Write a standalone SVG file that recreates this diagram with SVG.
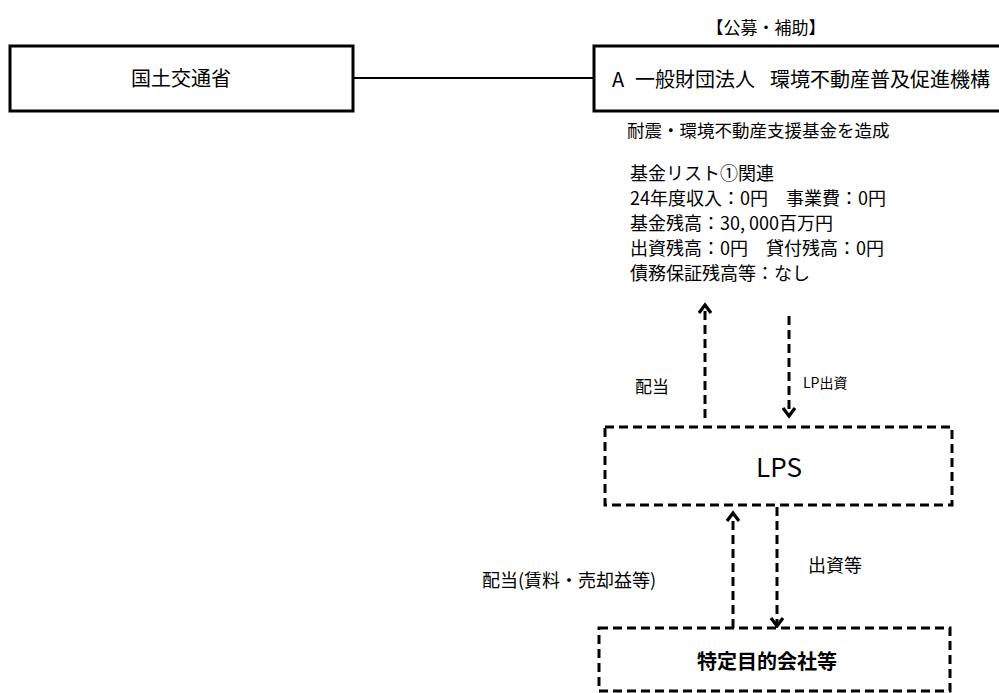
<svg xmlns="http://www.w3.org/2000/svg" width="999" height="693" viewBox="0 0 999 693">
<defs>
<style>
text{font-family:"Noto Sans CJK JP","Liberation Sans",sans-serif;fill:#000}
.solid{fill:#fff;stroke:#000;stroke-width:3}
.dash{fill:#fff;stroke:#000;stroke-width:3;stroke-dasharray:9 5}
.conn{fill:none;stroke:#000;stroke-width:3;stroke-dasharray:9 5}
.line{fill:none;stroke:#000;stroke-width:2}
.head{fill:none;stroke:#000;stroke-width:3.2;stroke-linecap:butt;stroke-linejoin:miter}
</style>
</defs>
<rect width="999" height="693" fill="#fff"/>
<g id="connectors">
<line class="line" x1="353" y1="78" x2="593" y2="78"/>
<line class="conn" x1="705" y1="418" x2="705" y2="306"/>
<polyline class="head" points="699,313 705,305 711,313"/>
<line class="conn" x1="789" y1="316" x2="789" y2="415"/>
<polyline class="head" points="783,408 789,416 795,408"/>
<line class="conn" x1="733" y1="628" x2="733" y2="514"/>
<polyline class="head" points="727,521 733,513 739,521"/>
<line class="conn" x1="777" y1="507" x2="777" y2="625"/>
<polyline class="head" points="771,618 777,626 783,618"/>
</g>
<g id="node-mlit">
<rect class="solid" x="10" y="46" width="343" height="65"/>
<text x="181" y="86" font-size="20" text-anchor="middle">国土交通省</text>
</g>
<g id="node-org">
<text x="766" y="34" font-size="17" text-anchor="middle">【公募・補助】</text>
<rect class="solid" x="594" y="46" width="420" height="65"/>
<text y="87" font-size="20"><tspan x="612">A </tspan><tspan x="635">一般財団法人 </tspan><tspan x="770">環境不動産普及促進機構</tspan></text>
<text x="627" y="137" font-size="17.5">耐震・環境不動産支援基金を造成</text>
<text font-size="18">
<tspan x="630" y="180">基金リスト①関連</tspan>
<tspan x="630" y="205">24年度収入：0円　事業費：0円</tspan>
<tspan x="630" y="230">基金残高：30, 000百万円</tspan>
<tspan x="630" y="255">出資残高：0円　貸付残高：0円</tspan>
<tspan x="630" y="280">債務保証残高等：なし</tspan>
</text>
</g>
<g id="node-lps">
<rect class="dash" x="605" y="427" width="347" height="78"/>
<text x="779" y="477" font-size="26" text-anchor="middle">LPS</text>
</g>
<g id="node-spc">
<rect class="dash" x="599" y="628" width="351" height="63"/>
<text x="767" y="669" font-size="20" font-weight="bold" text-anchor="middle">特定目的会社等</text>
</g>
<g id="labels">
<text x="635" y="393" font-size="17">配当</text>
<text x="803" y="388" font-size="14">LP出資</text>
<text x="482" y="587" font-size="18">配当(賃料・売却益等)</text>
<text x="808" y="572" font-size="18">出資等</text>
</g>
</svg>
